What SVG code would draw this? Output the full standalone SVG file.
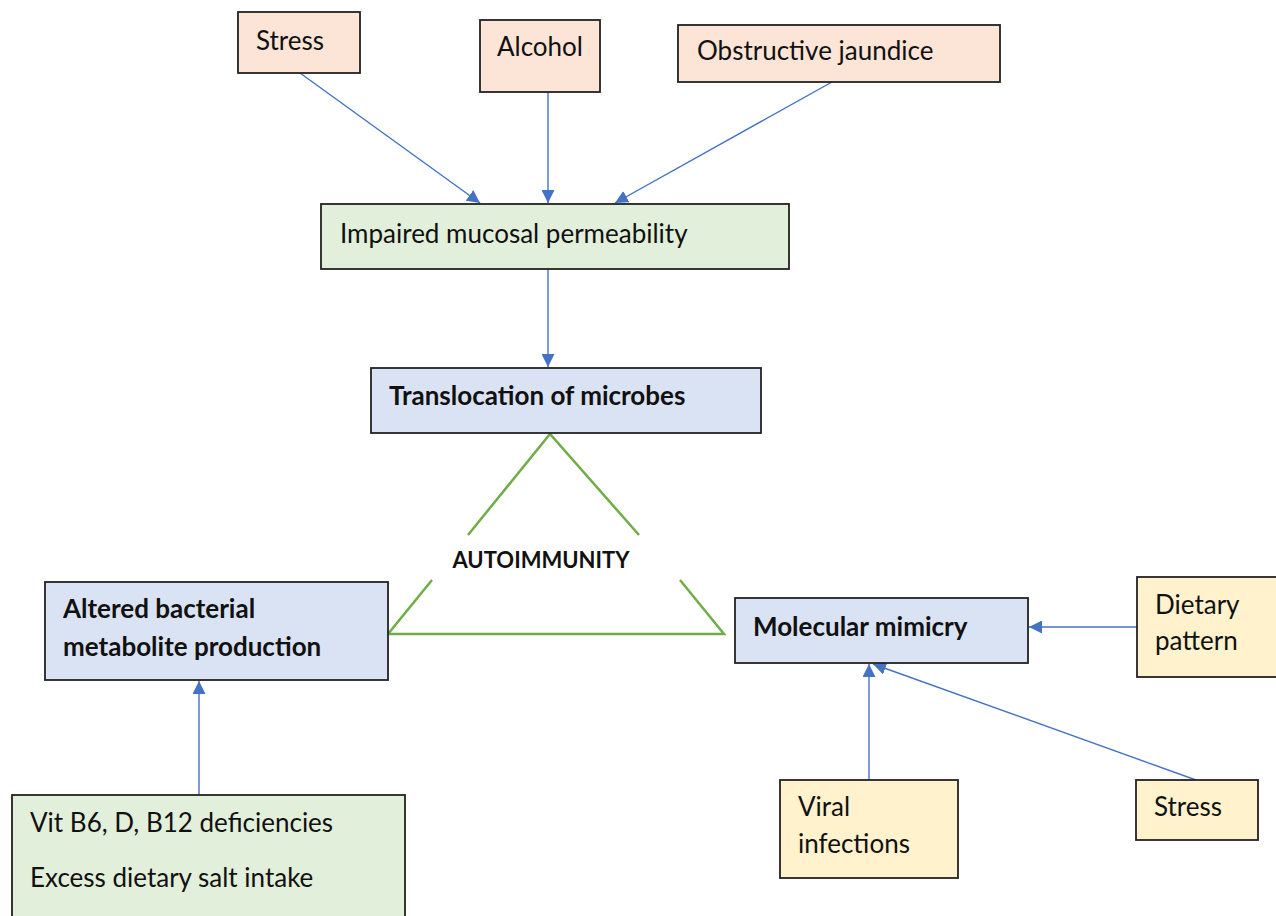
<svg xmlns="http://www.w3.org/2000/svg" width="1276" height="916" viewBox="0 0 1276 916">
<defs>
<style>
.box{stroke:#222;stroke-width:1.8}
.pink{fill:#FCE4D6}
.green{fill:#E2EFDA}
.blue{fill:#DAE3F3}
.yellow{fill:#FFF2CC}
.t{font-family:Lato,"Liberation Sans",sans-serif;font-size:26px;fill:#111}
.b{font-weight:bold}
.conn{stroke:#4472C4;stroke-width:1.4;fill:none;marker-end:url(#arr)}
.tri{stroke:#70AD47;stroke-width:2.5;fill:none}
</style>
<marker id="arr" viewBox="0 0 10 10" refX="10" refY="5" markerWidth="13" markerHeight="13" markerUnits="userSpaceOnUse" orient="auto">
<path d="M0,0 L10,5 L0,10 z" fill="#4472C4"/>
</marker>
</defs>
<rect width="1276" height="916" fill="#fff"/>
<g id="connectors">
<line class="conn" x1="300" y1="73" x2="480" y2="203"/>
<line class="conn" x1="548" y1="92" x2="548" y2="203"/>
<line class="conn" x1="832" y1="82" x2="615" y2="203"/>
<line class="conn" x1="548" y1="269" x2="548" y2="367"/>
<line class="conn" x1="199" y1="795" x2="199" y2="681"/>
<line class="conn" x1="1137" y1="627" x2="1029" y2="627"/>
<line class="conn" x1="869" y1="780" x2="869" y2="664"/>
<line class="conn" x1="1196" y1="780" x2="873" y2="664"/>
</g>
<g id="triangle">
<polyline class="tri" points="468,535 550,434 639,535"/>
<polyline class="tri" points="432,580 388,634 724,634 680,580"/>
</g>
<g id="n-stress-top"><rect class="box pink" x="238" y="12" width="122" height="61"/><text class="t" x="256" y="50">Stress</text></g>
<g id="n-alcohol"><rect class="box pink" x="480" y="20" width="120" height="72"/><text class="t" x="497" y="56">Alcohol</text></g>
<g id="n-jaundice"><rect class="box pink" x="678" y="25" width="322" height="57"/><text class="t" x="697" y="60">Obstructive jaundice</text></g>
<g id="n-impaired"><rect class="box green" x="321" y="204" width="468" height="65"/><text class="t" x="340" y="243">Impaired mucosal permeability</text></g>
<g id="n-translocation"><rect class="box blue" x="371" y="368" width="390" height="65"/><text class="t b" x="389" y="405">Translocation of microbes</text></g>
<g id="n-autoimmunity"><text class="t b" x="541" y="568" text-anchor="middle" style="font-size:22px">AUTOIMMUNITY</text></g>
<g id="n-altered"><rect class="box blue" x="45" y="582" width="343" height="98"/><text class="t b" x="63" y="618">Altered bacterial</text><text class="t b" x="63" y="656">metabolite production</text></g>
<g id="n-mimicry"><rect class="box blue" x="735" y="598" width="293" height="65"/><text class="t b" x="753" y="636">Molecular mimicry</text></g>
<g id="n-dietary"><rect class="box yellow" x="1137" y="577" width="142" height="100"/><text class="t" x="1155" y="614">Dietary</text><text class="t" x="1155" y="650">pattern</text></g>
<g id="n-vit"><rect class="box green" x="12" y="795" width="393" height="130"/><text class="t" x="30" y="832">Vit B6, D, B12 deficiencies</text><text class="t" x="30" y="887">Excess dietary salt intake</text></g>
<g id="n-viral"><rect class="box yellow" x="780" y="780" width="178" height="98"/><text class="t" x="798" y="816">Viral</text><text class="t" x="798" y="853">infections</text></g>
<g id="n-stress-bottom"><rect class="box yellow" x="1136" y="780" width="122" height="60"/><text class="t" x="1154" y="816">Stress</text></g>
</svg>
